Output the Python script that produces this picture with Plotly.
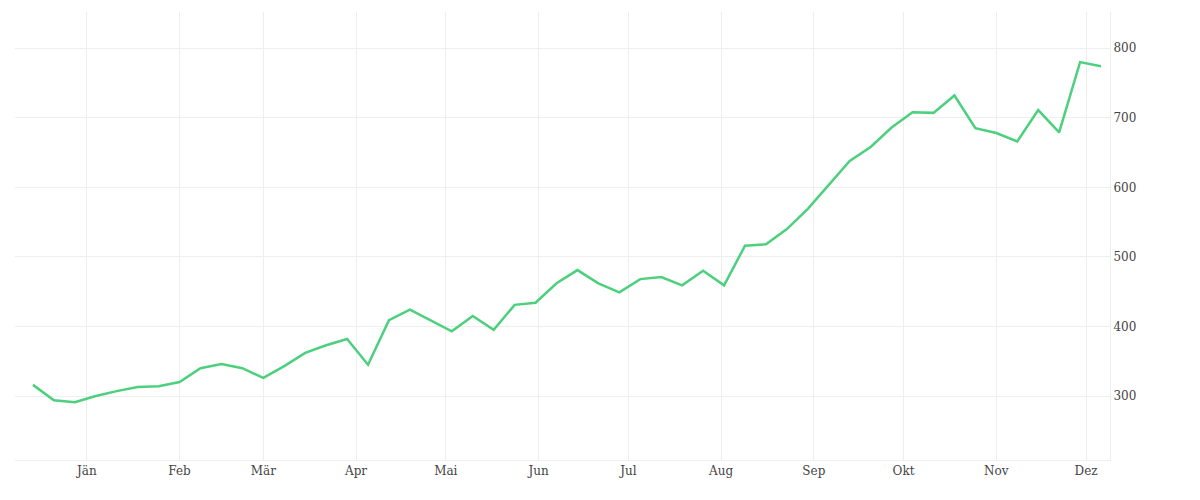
import pandas as pd
import plotly.graph_objects as go

start_date = "2014-12-14"
values = [316, 294, 291, 300, 307, 313, 314, 320, 340, 346, 340, 326, 343, 362, 373, 382,
          345, 409, 424, 409, 393, 415, 395, 431, 434, 462, 481, 462, 449, 468, 471, 459,
          480, 459, 516, 518, 540, 569, 603, 638, 658, 686, 708, 707, 732, 685, 678, 666,
          711, 679, 780, 774]
dates = pd.date_range(start_date, periods=len(values), freq="7D")
month_ticks = pd.date_range("2015-01-01", periods=12, freq="MS")
month_labels = ["Jän", "Feb", "Mär", "Apr", "Mai", "Jun", "Jul", "Aug", "Sep", "Okt", "Nov", "Dez"]
y_ticks = [300, 400, 500, 600, 700, 800]

fig = go.Figure(go.Scatter(x=dates, y=values, mode="lines",
                           line=dict(color="#4cd07d", width=2.5)))
fig.update_layout(
    width=1200, height=500, margin=dict(l=7, r=98, t=4, b=48),
    plot_bgcolor="white", paper_bgcolor="white", showlegend=False,
    font=dict(family="DejaVu Serif", size=12, color="#444"),
    xaxis=dict(range=["2014-12-08", "2015-12-09"], tickvals=month_ticks, ticktext=month_labels,
               showgrid=True, gridcolor="#eeeeee", zeroline=False, showline=True,
               linecolor="#eeeeee", ticks="", tickfont=dict(size=12)),
    yaxis=dict(range=[208, 852], side="right", tickvals=y_ticks, showgrid=True,
               gridcolor="#eeeeee", zeroline=False, showline=True, linecolor="#eeeeee",
               ticks="", tickfont=dict(size=12)),
)
fig.write_html("out.html")
